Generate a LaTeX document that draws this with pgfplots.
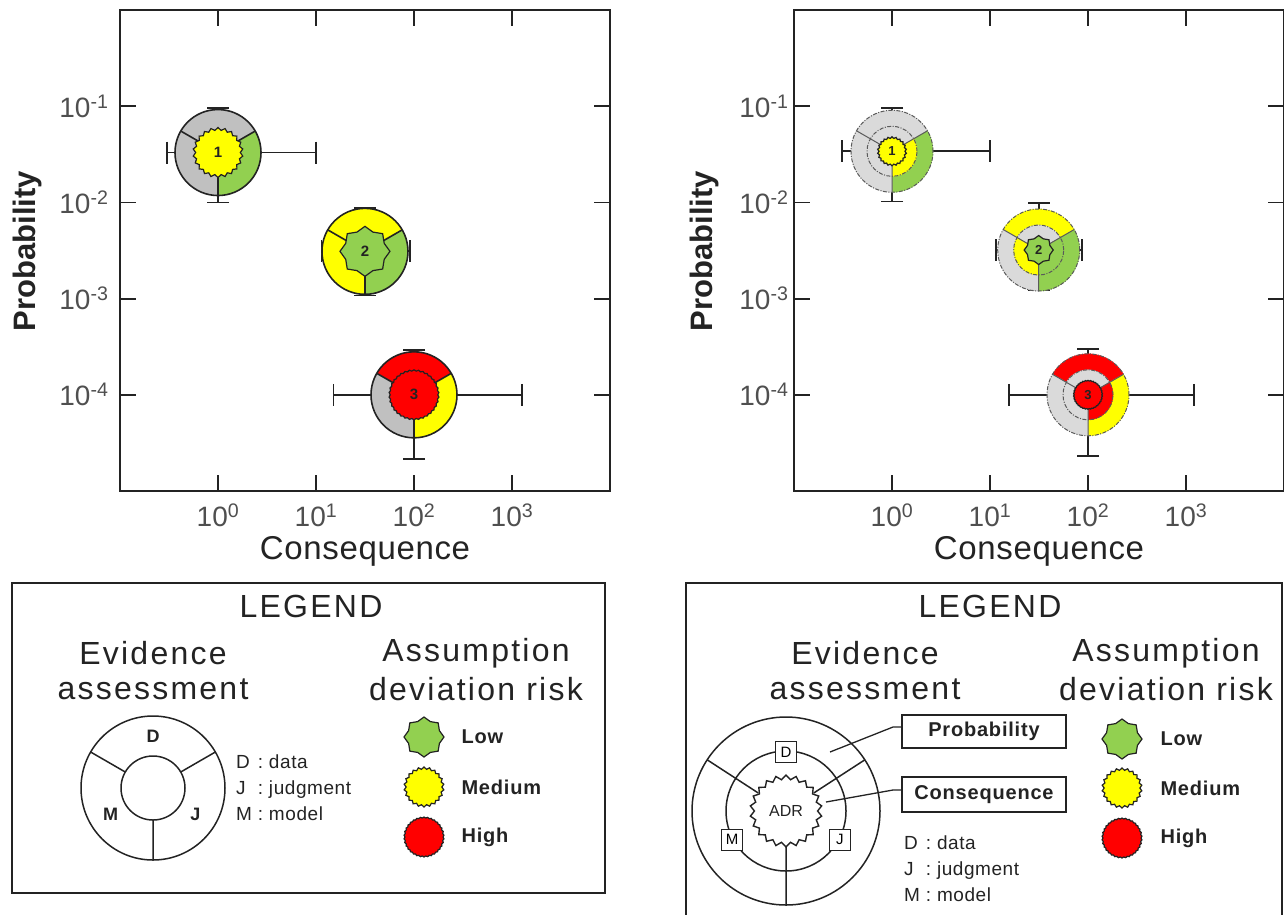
\documentclass[border=0pt]{standalone}
\usepackage{fontspec}
\setmainfont{Liberation Sans}
\usepackage{pgfplots}
\pgfplotsset{compat=1.18}
\usetikzlibrary{shapes.geometric}
\definecolor{gry}{RGB}{192,192,192}
\definecolor{lgry}{RGB}{218,218,218}
\definecolor{grn}{RGB}{146,208,80}
\definecolor{yel}{RGB}{255,255,0}
\definecolor{rd}{RGB}{255,0,0}
\definecolor{ink}{RGB}{35,35,35}
\definecolor{dgr}{RGB}{90,90,90}

\newcommand{\hd}{\fontsize{32}{32}\selectfont\addfontfeatures{LetterSpace=7}}
\newcommand{\sm}{\fontsize{19}{26}\selectfont\addfontfeatures{LetterSpace=3}}
\newcommand{\bsm}{\bfseries\fontsize{20}{20}\selectfont\addfontfeatures{LetterSpace=4}}

\tikzset{
  lowshape/.style={star, star points=8, star point ratio=1.2, draw=ink, fill=grn, inner sep=0pt, line width=1.2pt},
  medshape/.style={star, star points=22, star point ratio=1.12, draw=ink, fill=yel, inner sep=0pt, line width=1.2pt},
  highshape/.style={star, star points=34, star point ratio=1.05, draw=ink, fill=rd, inner sep=0pt, line width=1.2pt},
  adrshape/.style={star, star points=22, star point ratio=1.14, draw=ink, fill=white, inner sep=0pt, line width=1.4pt},
}

\newcommand{\sect}[4]{\fill[#1] (0pt,0pt) -- (#2:#4) arc[start angle=#2,end angle=#3,radius=#4] -- cycle;}
% left glyph: D, J, M colours, inner shape, label
\newcommand{\glyphL}[5]{%
  \sect{#1}{30}{150}{43pt}\sect{#2}{-90}{30}{43pt}\sect{#3}{150}{270}{43pt}%
  \draw[ink,line width=1.6pt] (0pt,0pt) circle[radius=43pt];
  \draw[ink,line width=1.6pt] (30:20pt) -- (30:43pt) (150:20pt) -- (150:43pt) (270:20pt) -- (270:43pt);
  \node[#4, minimum size=50pt] at (0pt,0pt) {};
  \node[font=\bfseries\fontsize{15}{15}\selectfont, text=ink] at (0pt,0pt) {#5};
}
% right glyph: outer D,J,M ; middle D,J,M ; inner shape ; label
\newcommand{\glyphR}[8]{%
  \sect{#1}{30}{150}{41pt}\sect{#2}{-90}{30}{41pt}\sect{#3}{150}{270}{41pt}%
  \sect{#4}{30}{150}{25pt}\sect{#5}{-90}{30}{25pt}\sect{#6}{150}{270}{25pt}%
  \draw[dgr, line width=1pt, dash pattern=on 4pt off 1.5pt on 1pt off 1.5pt] (0pt,0pt) circle[radius=41pt];
  \draw[dgr, line width=1pt, dash pattern=on 4pt off 1.5pt on 1pt off 1.5pt] (0pt,0pt) circle[radius=25pt];
  \draw[dgr, line width=1pt] (30:13pt) -- (30:41pt) (150:13pt) -- (150:41pt) (270:13pt) -- (270:41pt);
  \node[#7, minimum size=29pt] at (0pt,0pt) {};
  \node[font=\bfseries\fontsize{13}{13}\selectfont, text=ink] at (0pt,0pt) {#8};
}

\pgfdeclareplotmark{gL1}{\glyphL{gry}{grn}{gry}{medshape}{1}}
\pgfdeclareplotmark{gL2}{\glyphL{yel}{grn}{yel}{lowshape}{2}}
\pgfdeclareplotmark{gL3}{\glyphL{rd}{yel}{gry}{highshape}{3}}
\pgfdeclareplotmark{gR1}{\glyphR{lgry}{grn}{lgry}{lgry}{yel}{lgry}{medshape}{1}}
\pgfdeclareplotmark{gR2}{\glyphR{yel}{grn}{lgry}{lgry}{grn}{yel}{lowshape}{2}}
\pgfdeclareplotmark{gR3}{\glyphR{rd}{yel}{lgry}{lgry}{rd}{lgry}{highshape}{3}}

\pgfplotsset{
  ebar/.style={ink, line width=1.8pt, mark size=11pt, mark options={solid, line width=1.8pt}},
}

\begin{document}
\begin{tikzpicture}
\path[use as bounding box] (0pt,0pt) rectangle (1284pt,-914pt);

% ---------------- left chart ----------------
\begin{axis}[at={(120pt,-10pt)}, anchor=north west,
    scale only axis, width=490pt, height=481pt,
    xmode=log, ymode=log, xmin=0.1, xmax=1e4, ymin=1e-5, ymax=1, clip=false,
    axis line style={ink, line width=1.8pt},
    every tick/.style={ink, line width=1.8pt}, major tick length=16pt,
    xminorticks=false, yminorticks=false,
    xtick={1,10,100,1000},
    xticklabels={10\textsuperscript{0},10\textsuperscript{1},10\textsuperscript{2},10\textsuperscript{3}},
    ytick={1e-4,1e-3,1e-2,1e-1},
    yticklabels={10\textsuperscript{-4},10\textsuperscript{-3},10\textsuperscript{-2},10\textsuperscript{-1}},
    tick label style={font=\fontsize{28}{30}\selectfont, text=ink!80},
    xticklabel style={yshift=-9pt}, yticklabel style={xshift=-8pt}]
  % error bars (low/high ends)
  \addplot[ebar, mark=-] coordinates {(1,0.0100) (1,0.096)};
  \addplot[ebar, mark=|] coordinates {(0.30,0.033) (10,0.033)};
  \addplot[ebar, mark=-] coordinates {(31.6,0.00108) (31.6,0.0088)};
  \addplot[ebar, mark=|] coordinates {(11.4,0.0031) (91,0.0031)};
  \addplot[ebar, mark=-] coordinates {(100,2.15e-5) (100,2.9e-4)};
  \addplot[ebar, mark=|] coordinates {(15.1,1e-4) (1260,1e-4)};
  % glyphs
  \addplot[only marks, mark=gL1] coordinates {(1,0.033)};
  \addplot[only marks, mark=gL2] coordinates {(31.6,0.0031)};
  \addplot[only marks, mark=gL3] coordinates {(100,1e-4)};
\end{axis}

% ---------------- right chart ----------------
\begin{axis}[at={(794pt,-10pt)}, anchor=north west,
    scale only axis, width=490pt, height=481pt,
    xmode=log, ymode=log, xmin=0.1, xmax=1e4, ymin=1e-5, ymax=1, clip=false,
    axis line style={ink, line width=1.8pt},
    every tick/.style={ink, line width=1.8pt}, major tick length=16pt,
    xminorticks=false, yminorticks=false,
    xtick={1,10,100,1000},
    xticklabels={10\textsuperscript{0},10\textsuperscript{1},10\textsuperscript{2},10\textsuperscript{3}},
    ytick={1e-4,1e-3,1e-2,1e-1},
    yticklabels={10\textsuperscript{-4},10\textsuperscript{-3},10\textsuperscript{-2},10\textsuperscript{-1}},
    tick label style={font=\fontsize{28}{30}\selectfont, text=ink!80},
    xticklabel style={yshift=-9pt}, yticklabel style={xshift=-2pt}]
  \addplot[ebar, mark=-] coordinates {(1,0.0102) (1,0.095)};
  \addplot[ebar, mark=|] coordinates {(0.31,0.034) (10,0.034)};
  \addplot[ebar, mark=-] coordinates {(31.4,0.00122) (31.4,0.0098)};
  \addplot[ebar, mark=|] coordinates {(11.5,0.0032) (87,0.0032)};
  \addplot[ebar, mark=-] coordinates {(100,2.3e-5) (100,3.0e-4)};
  \addplot[ebar, mark=|] coordinates {(15.6,1e-4) (1200,1e-4)};
  \addplot[only marks, mark=gR1] coordinates {(1,0.034)};
  \addplot[only marks, mark=gR2] coordinates {(31.4,0.0032)};
  \addplot[only marks, mark=gR3] coordinates {(100,1e-4)};
\end{axis}

\begin{scope}[x=1pt, y=-1pt]
\node[font=\bfseries\fontsize{31}{31}\selectfont, rotate=90, text=ink] at (27,251) {Probability};
\node[font=\fontsize{33}{33}\selectfont\addfontfeatures{LetterSpace=2}, text=ink] at (365,551) {Consequence};
\node[font=\bfseries\fontsize{31}{31}\selectfont, rotate=90, text=ink] at (704,251) {Probability};
\node[font=\fontsize{33}{33}\selectfont\addfontfeatures{LetterSpace=2}, text=ink] at (1039,551) {Consequence};

% ---------------- left legend ----------------
\draw[ink, line width=2pt] (12,583) rectangle (605,893);
\node[font=\hd, text=ink] at (311,606) {LEGEND};
\node[font=\hd, text=ink] at (153,653) {Evidence};
\node[font=\hd, text=ink] at (153,689) {assessment};
\node[font=\hd, text=ink] at (476,653) {Assumption};
\node[font=\hd, text=ink] at (476,689) {deviation risk};
\begin{scope}[shift={(153,788)}]
  \draw[ink, line width=1.5pt] (0pt,0pt) circle[radius=72pt];
  \draw[ink, line width=1.5pt] (0pt,0pt) circle[radius=32pt];
  \draw[ink, line width=1.5pt] (30:32pt) -- (30:72pt) (150:32pt) -- (150:72pt) (270:32pt) -- (270:72pt);
  \node[font=\bfseries\fontsize{18}{18}\selectfont, text=ink] at (90:52pt) {D};
  \node[font=\bfseries\fontsize{18}{18}\selectfont, text=ink] at (212:50pt) {M};
  \node[font=\bfseries\fontsize{18}{18}\selectfont, text=ink] at (328:50pt) {J};
\end{scope}
\node[anchor=north west, inner sep=0pt, font=\sm, text=ink, align=left] at (236,750)
  {\begin{tabular}{@{}l@{\ :\ }l@{}}D&data\\J&judgment\\M&model\end{tabular}};
\node[lowshape, minimum size=40pt] at (424,737) {};
\node[medshape, minimum size=40pt] at (424,787) {};
\node[highshape, minimum size=40pt] at (424,837) {};
\node[anchor=west, font=\bsm, text=ink] at (458,737) {Low};
\node[anchor=west, font=\bsm, text=ink] at (458,787) {Medium};
\node[anchor=west, font=\bsm, text=ink] at (458,837) {High};

% ---------------- right legend ----------------
\draw[ink, line width=2pt] (686,916) -- (686,583) -- (1282,583) -- (1282,916);
\node[font=\hd, text=ink] at (990,606) {LEGEND};
\node[font=\hd, text=ink] at (865,653) {Evidence};
\node[font=\hd, text=ink] at (865,689) {assessment};
\node[font=\hd, text=ink] at (1166,653) {Assumption};
\node[font=\hd, text=ink] at (1166,689) {deviation risk};
\begin{scope}[shift={(786,811)}]
  \draw[ink, line width=1.5pt] (0pt,0pt) circle[radius=94pt];
  \draw[ink, line width=1.5pt] (0pt,0pt) circle[radius=60pt];
  \draw[ink, line width=1.5pt] (33:33pt) -- (33:94pt) (147:33pt) -- (147:94pt) (270:33pt) -- (270:94pt);
  \node[adrshape, minimum size=72pt] at (0pt,0pt) {};
  \node[font=\fontsize{16}{16}\selectfont, text=ink] at (0pt,0pt) {ADR};
  \node[draw=ink, fill=white, line width=1.3pt, minimum size=21pt, inner sep=0pt, font=\fontsize{15}{15}\selectfont] at (90:59pt) {D};
  \node[draw=ink, fill=white, line width=1.3pt, minimum size=21pt, inner sep=0pt, font=\fontsize{15}{15}\selectfont] at (208:61pt) {M};
  \node[draw=ink, fill=white, line width=1.3pt, minimum size=21pt, inner sep=0pt, font=\fontsize{15}{15}\selectfont] at (332:61pt) {J};
\end{scope}
\draw[ink, line width=1.5pt] (902,715) rectangle (1066,748);
\node[font=\bsm, text=ink] at (984,731) {Probability};
\draw[ink, line width=1.5pt] (902,777) rectangle (1066,812);
\node[font=\bsm, text=ink] at (984,795) {Consequence};
\draw[ink, line width=1.3pt] (902,727) -- (893,727) -- (830,752);
\draw[ink, line width=1.3pt] (902,790) -- (893,790) -- (826,802);
\node[anchor=north west, inner sep=0pt, font=\sm, text=ink, align=left] at (904,831)
  {\begin{tabular}{@{}l@{\ :\ }l@{}}D&data\\J&judgment\\M&model\end{tabular}};
\node[lowshape, minimum size=40pt] at (1122,739) {};
\node[medshape, minimum size=40pt] at (1122,788) {};
\node[highshape, minimum size=40pt] at (1122,838) {};
\node[anchor=west, font=\bsm, text=ink] at (1157,739) {Low};
\node[anchor=west, font=\bsm, text=ink] at (1157,788) {Medium};
\node[anchor=west, font=\bsm, text=ink] at (1157,838) {High};
\end{scope}
\end{tikzpicture}
\end{document}
